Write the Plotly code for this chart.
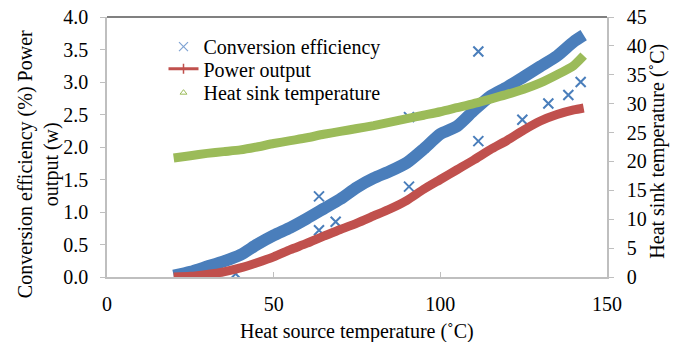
import plotly.graph_objects as go

# Heat source temperature (°C) sampled along the measured run
heat_source = [20, 25, 30, 35, 40, 45, 50, 55, 60, 65, 70, 75, 80,
               85, 90, 95, 100, 105, 110, 115, 120, 125, 130, 135, 140, 143]

# Conversion efficiency (%) – main trend
efficiency = [0.02, 0.08, 0.16, 0.24, 0.34, 0.50, 0.64, 0.76, 0.90, 1.05, 1.20, 1.38, 1.52,
              1.63, 1.76, 1.97, 2.20, 2.32, 2.56, 2.78, 2.92, 3.08, 3.24, 3.40, 3.62, 3.72]

# Power output (W)
power = [0.00, 0.01, 0.04, 0.08, 0.14, 0.22, 0.31, 0.42, 0.52, 0.63, 0.73, 0.83, 0.94,
         1.05, 1.18, 1.35, 1.50, 1.65, 1.80, 1.96, 2.10, 2.26, 2.40, 2.50, 2.57, 2.60]

# Heat sink temperature (°C)
sink_temp = [20.6, 21.0, 21.4, 21.7, 22.0, 22.5, 23.1, 23.6, 24.1, 24.7, 25.2, 25.7, 26.2,
             26.8, 27.4, 28.0, 28.6, 29.3, 30.0, 30.8, 31.6, 32.5, 33.6, 35.0, 36.6, 38.3]

# Scattered efficiency readings away from the main trend
scatter_temp = [38.6, 63.6, 63.6, 68.6, 90.6, 90.6, 111.4, 111.4, 124.6, 132.4, 138.4, 142.1]
scatter_eff = [0.05, 1.24, 0.72, 0.85, 2.46, 1.39, 3.47, 2.09, 2.42, 2.67, 2.80, 3.00]

BLUE = "#4A7EBB"
RED = "#C0504D"
GREEN = "#9BBB59"
FONT = "Times New Roman, Liberation Serif, serif"

fig = go.Figure()

# data traces
fig.add_trace(go.Scatter(x=heat_source, y=efficiency, mode="lines",
                         line=dict(color=BLUE, width=12, shape="spline", smoothing=0.6),
                         showlegend=False, hoverinfo="skip"))
fig.add_trace(go.Scatter(x=scatter_temp, y=scatter_eff, mode="markers",
                         marker=dict(symbol="x-thin-open", size=10, color=BLUE,
                                     line=dict(color=BLUE, width=2)),
                         showlegend=False))
fig.add_trace(go.Scatter(x=heat_source, y=power, mode="lines",
                         line=dict(color=RED, width=9, shape="spline", smoothing=0.6),
                         showlegend=False))
fig.add_trace(go.Scatter(x=heat_source, y=sink_temp, mode="lines", yaxis="y2",
                         line=dict(color=GREEN, width=9, shape="spline", smoothing=0.6),
                         showlegend=False))

# legend entries, one legend box per row
fig.add_trace(go.Scatter(x=[None], y=[None], mode="markers", name="Conversion efficiency",
                         legend="legend",
                         marker=dict(symbol="x-thin-open", size=9, color="#7FA3D3",
                                     line=dict(color="#7FA3D3", width=1.2))))
fig.add_trace(go.Scatter(x=[None], y=[None], mode="lines+markers", name="Power output",
                         legend="legend2",
                         line=dict(color=RED, width=3),
                         marker=dict(symbol="line-ns-open", size=7,
                                     line=dict(color=RED, width=1.5))))
fig.add_trace(go.Scatter(x=[None], y=[None], mode="markers", name="Heat sink temperature",
                         legend="legend3",
                         marker=dict(symbol="triangle-up-open", size=6, color=GREEN,
                                     line=dict(color=GREEN, width=1))))

axis_line = "#BFBFBF"
tick_font = dict(family=FONT, size=20, color="#000000")


def legend_box(ypos):
    return dict(x=0.113, y=ypos, xanchor="left", yanchor="middle",
                bgcolor="rgba(0,0,0,0)", font=dict(family=FONT, size=20, color="#000000"),
                itemwidth=30)


fig.update_layout(
    width=686, height=342,
    margin=dict(l=107, r=79, t=17, b=65, autoexpand=False),
    paper_bgcolor="white", plot_bgcolor="white",
    font=dict(family=FONT, size=20, color="#000000"),
    showlegend=True,
    legend=legend_box(0.886),
    legend2=legend_box(0.801),
    legend3=legend_box(0.709),
    xaxis=dict(range=[0, 150], tickvals=[0, 50, 100, 150], ticks="inside", ticklen=5,
               tickcolor=axis_line, showline=True, linecolor=axis_line, linewidth=1.5,
               showgrid=False, zeroline=False, tickfont=tick_font, ticklabelstandoff=8,
               automargin=False),
    yaxis=dict(range=[0, 4], dtick=0.5, tickformat=".1f", ticks="outside", ticklen=5,
               tickcolor=axis_line, showline=True, linecolor=axis_line, linewidth=1.5,
               showgrid=False, zeroline=False, tickfont=tick_font, ticklabelstandoff=8,
               automargin=False),
    yaxis2=dict(range=[0, 45], dtick=5, overlaying="y", side="right", ticks="outside",
                ticklen=5, tickcolor=axis_line, showline=True, linecolor=axis_line,
                linewidth=1.5, showgrid=False, zeroline=False, tickfont=tick_font,
                ticklabelstandoff=9, automargin=False),
    shapes=[dict(type="line", xref="paper", yref="paper", x0=0, x1=1, y0=1, y1=1,
                 line=dict(color="#808080", width=2))],
    annotations=[
        dict(text="Conversion efficiency (%) Power<br>output (w)", textangle=-90,
             xref="paper", yref="paper", x=-0.137, y=0.432, xanchor="center",
             yanchor="middle", showarrow=False, font=dict(family=FONT, size=20)),
        dict(text="Heat sink temperature (˚C)", textangle=-90,
             xref="paper", yref="paper", x=1.102, y=0.482, xanchor="center",
             yanchor="middle", showarrow=False, font=dict(family=FONT, size=20)),
        dict(text="Heat source temperature (˚C)", xref="paper", yref="paper",
             x=0.5, y=-0.208, xanchor="center", yanchor="middle", showarrow=False,
             font=dict(family=FONT, size=20)),
    ],
)

fig.write_html("out.html")
